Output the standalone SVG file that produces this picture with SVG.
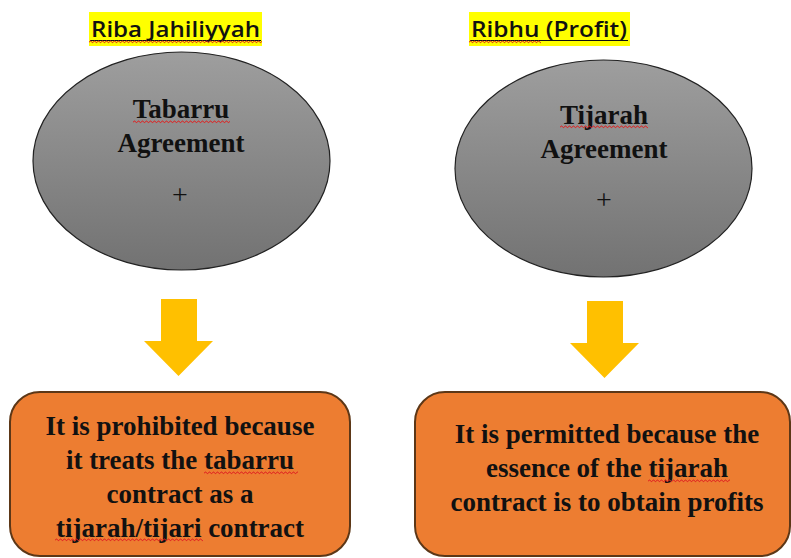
<svg xmlns="http://www.w3.org/2000/svg" width="791" height="558" viewBox="0 0 791 558">
<defs>
  <linearGradient id="gray" x1="0" y1="0" x2="0" y2="1">
    <stop offset="0" stop-color="#9e9e9e"/>
    <stop offset="1" stop-color="#727272"/>
  </linearGradient>
  <pattern id="sq" patternUnits="userSpaceOnUse" width="4" height="4">
    <polyline points="0,2.6 1,1 2,1 3,2.6 4,2.6" fill="none" stroke="#e02020" stroke-width="0.9"/>
  </pattern>
  <path id="arrow" d="M0,0 H36 V42 H52 L17.5,77 L-17,42 H0 Z"/>
</defs>
<style>
  .title { font-family: "Open Sans", "Liberation Sans", sans-serif; font-weight: 600; font-size: 21px; fill: #111; }
  .hl { fill: #ffff00; }
  .ell { fill: url(#gray); stroke: #222; stroke-width: 1.2; }
  .et { font-family: "Liberation Serif", "Times New Roman", serif; font-weight: bold; font-size: 27px; fill: #111; text-anchor: middle; }
  .plus { font-family: "Liberation Serif", "Times New Roman", serif; font-size: 28px; fill: #111; text-anchor: middle; }
  .box { fill: #ed7d31; stroke: #5c3717; stroke-width: 2; }
  .bt { font-family: "Liberation Serif", "Times New Roman", serif; font-weight: bold; font-size: 27px; fill: #111; text-anchor: middle; }
  .arr { fill: #ffc000; }
  .sq { fill: url(#sq); }
</style>

<g id="title-left">
  <rect class="hl" x="89" y="12" width="173" height="34"/>
  <text class="title" x="91" y="37" textLength="169" lengthAdjust="spacingAndGlyphs">Riba Jahiliyyah</text>
  <line x1="90" y1="40.5" x2="261" y2="40.5" stroke="#111" stroke-width="1"/>
  <g transform="translate(89,40)"><rect class="sq" x="0" y="0" width="173" height="4"/></g>
</g>

<g id="title-right">
  <rect class="hl" x="469" y="12" width="161" height="34"/>
  <text class="title" x="471" y="37" textLength="156" lengthAdjust="spacingAndGlyphs">Ribhu (Profit)</text>
  <line x1="470" y1="40.5" x2="628" y2="40.5" stroke="#111" stroke-width="1"/>
  <g transform="translate(469,40)"><rect class="sq" x="0" y="0" width="72" height="4"/></g>
</g>

<g id="node-tabarru">
  <ellipse class="ell" cx="181.5" cy="161" rx="148.5" ry="109"/>
  <text class="et" x="181" y="118">Tabarru</text>
  <g transform="translate(133,120)"><rect class="sq" x="0" y="0" width="97" height="4"/></g>
  <text class="et" x="181" y="152">Agreement</text>
  <text class="plus" x="180" y="204">+</text>
</g>

<g id="node-tijarah">
  <ellipse class="ell" cx="603.5" cy="168.5" rx="148.5" ry="108.5"/>
  <text class="et" x="604" y="124">Tijarah</text>
  <g transform="translate(560,125)"><rect class="sq" x="0" y="0" width="88" height="4"/></g>
  <text class="et" x="604" y="158">Agreement</text>
  <text class="plus" x="604" y="209">+</text>
</g>

<g id="connectors">
  <use href="#arrow" class="arr" transform="translate(161,299)"/>
  <use href="#arrow" class="arr" transform="translate(587,301)"/>
</g>

<g id="node-prohibited">
  <rect class="box" x="10" y="392" width="340" height="164" rx="30" ry="30"/>
  <text class="bt" x="180" y="435">It is prohibited because</text>
  <text class="bt" x="180" y="469">it treats the tabarru</text>
  <g transform="translate(204,471)"><rect class="sq" x="0" y="0" width="94" height="4"/></g>
  <text class="bt" x="180" y="503">contract as a</text>
  <text class="bt" x="180" y="537">tijarah/tijari contract</text>
  <g transform="translate(55,538)"><rect class="sq" x="0" y="0" width="148" height="4"/></g>
</g>

<g id="node-permitted">
  <rect class="box" x="415" y="392" width="375" height="164" rx="30" ry="30"/>
  <text class="bt" x="607" y="443">It is permitted because the</text>
  <text class="bt" x="607" y="477">essence of the tijarah</text>
  <g transform="translate(648,479)"><rect class="sq" x="0" y="0" width="82" height="4"/></g>
  <text class="bt" x="607" y="511">contract is to obtain profits</text>
</g>
</svg>
